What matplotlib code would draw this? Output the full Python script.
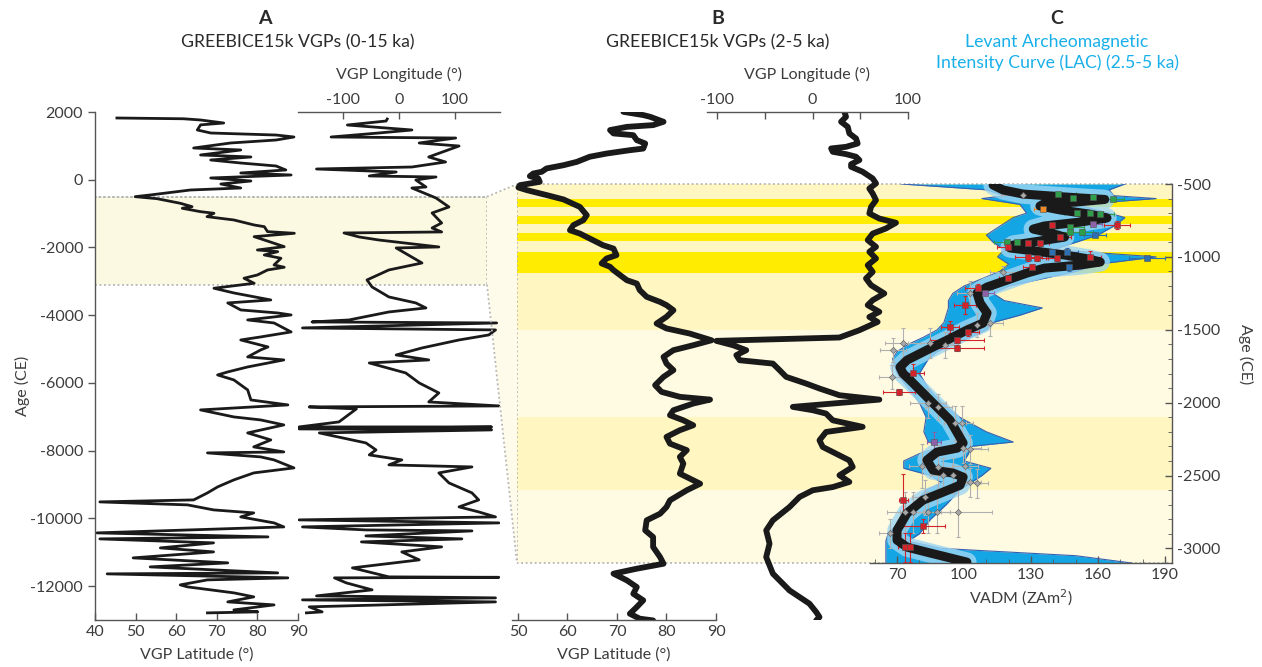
import matplotlib
matplotlib.use("Agg")
import matplotlib.pyplot as plt
from matplotlib.patches import Polygon

plt.rcParams['font.family'] = ['Lato', 'DejaVu Sans']
plt.rcParams['axes.unicode_minus'] = False

# ---------------- data ----------------
# Panel A: GREEBICE15k VGP latitude / longitude, 0-15 ka (age in years CE)
A_lat_age = [1823, 1800, 1764, 1675, 1620, 1469, 1380, 1320, 1262, 1173, 1085, 937, 878, 731, 672,
             583, 494, 406, 288, 199, 140, 52, -37, -126, -244, -303, -450,
             -500, -560, -695, -795, -843, -943, -990, -1090, -1188, -1336, -1386, -1533, -1581,
             -1681, -1779, -1976, -2074, -2124, -2221, -2319, -2516, -2584, -2664, -2812, -2909,
             -3057, -3204, -3343, -3550, -3638, -3845, -3934, -3993, -4140, -4229, -4494,
             -4642, -4731, -4937, -5026, -5232, -5321, -5528, -5675, -5764, -5911, -6206, -6502,
             -6649, -6797, -7004, -7092, -7240, -7476, -7683, -7889, -8037, -8066, -8184, -8273,
             -8509, -8657, -8863, -9070, -9247, -9454, -9513, -9601, -9749, -9838, -9956, -10133,
             -10251, -10428, -10546, -10605, -10723, -10871, -10989, -11166, -11313, -11432,
             -11609, -11638, -11756, -11815, -11963, -12022, -12199, -12317, -12465, -12554,
             -12702, -12760, -12790]
A_lat = [45.4, 61.8, 66, 71.7, 66, 65.2, 68.5, 84.6, 89, 84.6, 73.4, 64.3, 75.9, 66, 78.4,
         68.5, 75.9, 84.6, 87, 75.9, 88.3, 68.5, 78.4, 71, 75.9, 63.5, 53.6,
         49.9, 55.3, 61.0, 63.9, 61.5, 66.0, 69.3, 67.6, 74.2, 79.2, 81.7, 82.5, 89.1,
         79.2, 81.7, 86.6, 80.0, 85.0, 81.7, 85.8, 84.1, 86.6, 82.5, 80.0, 76.7,
         79.2, 69.3, 74.2, 83.3, 72.7, 75.9, 85, 88.3, 77.6, 84.1, 88.3,
         80.8, 75.9, 82.6, 80.8, 77.6, 86.5, 77.6, 72.7, 70.2, 74.2, 77.6, 78.4,
         87.5, 66, 74.2, 80.8, 86.5, 77.6, 83.3, 79.1, 86.5, 67.7, 80.8, 84.1,
         89, 79.1, 74.2, 70.2, 67.7, 64.3, 41.2, 62.8, 69.2, 79.1, 75.9, 84.1,
         86.5, 40.5, 82.6, 41.2, 69.2, 56.1, 69.2, 49.4, 72.7, 53.6,
         85, 43, 87.5, 67.7, 61, 62.8, 74.2, 79.1, 72.7, 84.1,
         74.2, 80.1, 67.7]

A_lon_age = [1793, 1734, 1616, 1469, 1380, 1262, 1232, 1085, 996, 672, 524, 376, 317, 229, 111,
             81, -7, -214, -244, -539, -804, -982, -1277, -1424, -1542, -1572, -1690, -1779,
             -1985, -2015, -2458, -2664, -2959, -3166, -3461, -3638, -3786, -3904, -4140, -4199,
             -4229, -4376, -4435, -4583, -4731, -4967, -5174, -5321, -5410, -5705, -6000, -6295,
             -6561, -6679, -6708, -6767, -7151, -7299, -7300, -7358, -7387, -7476, -7771, -7978,
             -8125, -8273, -8420, -8480, -8657, -8952, -9247, -9454, -9660, -9808, -9956, -10044,
             -10133, -10251, -10340, -10369, -10517, -10605, -10694, -10841, -10989, -11225,
             -11461, -11727, -11740, -11756, -11904, -12110, -12288, -12347, -12406, -12465,
             -12612, -12760, -12790]
A_lon = [-21, -23, -92, 23, -36, -121, 101, 36, 107, 53, 83, 23, -147, -5, -53,
         66, 30, 48, 23, 66, 89, 59, 76, 59, 76, -98, -71, -36,
         71, -5, 41, -18, -57, -48, -18, 30, 48, -18, -89, -155,
         174, -172, 172, 160, 107, 41, -5, 53, -53, 12, 36, 71,
         53, 178, -160, -76, -107, -178, 165, -178, 165, -142, -59, -41,
         -53, 5, -18, 130, 71, 89, 130, 142, 107, 142, 172, -178,
         178, -172, -59, 130, -59, 112, -67, 76, 5, 36,
         -83, -18, 178, -115, -94, -48, -147, 172, -172, 172,
         -160, -137, -165]

# Panel B: GREEBICE15k VGPs, 2-5 ka
B_lat_age = [-4, -26, -38, -72, -95, -107, -129, -152, -164, -198,
             -221, -256, -267, -290, -312, -347, -370, -392, -415, -427,
             -445, -461, -484, -507, -523, -541, -575, -605, -656, -713,
             -747, -781, -816, -839, -873, -919, -942, -987, -1010, -1044,
             -1067, -1090, -1159, -1182, -1227, -1273, -1308, -1330, -1365, -1410,
             -1456, -1490, -1525, -1571, -1605, -1639, -1685, -1731, -1776, -1822,
             -1879, -1925, -1959, -1978, -2005, -2051, -2085, -2120, -2154, -2188,
             -2234, -2280, -2325, -2371, -2417, -2486, -2555, -2600, -2669, -2715,
             -2761, -2806, -2875, -2921, -2989, -3058, -3104, -3138, -3172, -3218,
             -3264, -3310, -3355, -3401, -3447, -3481, -3493]
B_lat = [71.3, 75.3, 76.7, 79.4, 77.3, 72.0, 68.6, 69.3, 73.3, 74.0,
         75.7, 75.3, 72.6, 67.9, 64.5, 61.9, 59.2, 55.8, 54.8, 53.1,
         52.4, 54.1, 54.4, 50.4, 50.1, 51.8, 55.8, 59.2, 62.5, 63.9,
         63.2, 61.2, 60.5, 62.5, 64.5, 67.2, 69.3, 69.9, 67.9, 66.9,
         68.6, 69.3, 72.0, 74.0, 74.6, 76.0, 78.7, 80.0, 81.4, 80.0,
         78.0, 80.0, 84.7, 89.1, 85.4, 81.4, 79.4, 80.0, 81.4, 79.4,
         77.7, 79.0, 82.7, 88.8, 85.4, 81.4, 80.7, 83.4, 85.4, 82.7,
         80.0, 80.7, 84.1, 82.7, 83.4, 82.7, 86.8, 84.1, 80.7, 80.0,
         78.7, 76.0, 75.7, 77.3, 77.3, 78.7, 79.4, 74.0, 69.3, 72.0,
         74.0, 73.3, 75.3, 74.0, 72.6, 74.6, 77.3]

B_lon_age = [-4, -38, -72, -107, -152, -187, -221, -244, -255, -278,
             -294, -312, -335, -363, -381, -415, -461, -495, -530, -564,
             -610, -656, -701, -736, -765, -804, -839, -884, -930, -964,
             -1010, -1056, -1102, -1147, -1193, -1250, -1296, -1330, -1376, -1411,
             -1445, -1502, -1552, -1575, -1605, -1639, -1673, -1708, -1731, -1776,
             -1822, -1868, -1902, -1948, -1978, -2028, -2051, -2074, -2120, -2165,
             -2200, -2257, -2303, -2395, -2440, -2497, -2543, -2578, -2600, -2646,
             -2715, -2806, -2875, -2966, -3058, -3172, -3287, -3378, -3435, -3470,
             -3493]
B_lon = [33.4, 35.1, 29.9, 36.9, 38.6, 45.6, 47.3, 35.1, 19.5, 21.2,
         35.1, 45.6, 49.1, 40.4, 40.4, 52.5, 63.0, 66.5, 59.5, 63.0,
         66.5, 61.3, 59.5, 70.0, 87.4, 76.9, 63.0, 57.8, 66.5, 59.5,
         66.5, 57.8, 63.0, 56.0, 61.3, 75.2, 63.0, 57.8, 70.0, 59.5,
         68.2, 49.1, 28.2, -100.7, -83.3, -69.4, -79.8, -76.3, -41.5, -34.5,
         -27.6, -6.7, 7.3, 28.2, 70.0, -20.6, 0.3, 14.2, 21.2, 52.5,
         14.2, 7.3, 10.7, 38.6, 42.1, 28.2, 38.6, 21.2, 0.3, -13.6,
         -24.1, -41.5, -48.5, -45.0, -48.5, -41.5, -24.1, -3.2, 3.8, 7.3,
         3.8]

# Panel C: Levant Archeomagnetic Intensity Curve (VADM, ZAm^2)
C_age = [-507, -541, -569, -582, -596, -606, -624, -634, -651, -678,
         -706, -733, -761, -788, -809, -836, -864, -891, -919, -939,
         -960, -987, -1015, -1035, -1056, -1077, -1111, -1159, -1207, -1248,
         -1317, -1385, -1454, -1502, -1571, -1639, -1708, -1756, -1800, -1845,
         -1914, -2003, -2120, -2277, -2312, -2339, -2394, -2463, -2483, -2511,
         -2566, -2614, -2669, -2758, -2875, -2943, -2991, -3026, -3060, -3094]
C_vadm = [113, 117.5, 126.4, 138.5, 152, 163, 150, 136, 134, 143,
          156, 164, 152, 136, 131, 138.5, 145, 134, 122, 120.6,
          131.8, 145, 156, 161, 152, 136, 128.2, 119.3, 110.3, 105.8,
          107.2, 110.3, 108.5, 101.3, 92.4, 83.4, 74.5, 71.3, 72.7, 75.8,
          80.3, 86.1, 93.7, 99.6, 96.9, 87.9, 83.4, 86.1, 95.1, 99.6,
          98.2, 90.6, 81.6, 74.5, 70, 70, 74.5, 83.4, 92.4, 101.3]

C_env_age = [-500, -540, -580, -600, -640, -700, -730, -780, -850, -900, -950, -1000, -1050,
             -1100, -1150, -1200, -1250, -1300, -1350, -1400, -1450, -1500, -1550, -1600, -1650,
             -1700, -1800, -1900, -2000, -2100, -2200, -2270, -2300, -2350, -2400, -2450, -2500,
             -2550, -2600, -2700, -2800, -2900, -2950, -3000, -3050, -3100]
C_env_lo = [72, 110, 118, 108, 125, 128, 122, 117, 110, 113, 118, 115, 120,
            116, 108, 100, 95, 93, 93, 92, 91, 88, 82, 75, 70,
            68, 70, 75, 80, 83, 82, 84, 90, 80, 73, 73, 85,
            90, 83, 77, 72, 66, 65, 65, 65, 65]
C_env_hi = [172, 165, 167, 186, 150, 165, 172, 168, 160, 150, 140, 186, 160,
            150, 135, 120, 113, 118, 135, 125, 113, 110, 103, 95, 88,
            84, 80, 84, 90, 98, 110, 122, 103, 102, 100, 112, 108,
            103, 98, 92, 85, 80, 75, 90, 150, 175]

# archeomagnetic data: age, VADM, VADM error, age error
red_age = [-781, -781, -864, -905, -905, -932, -1001, -1001, -1008, -1070, -1008, -1145, -1214,
           -1330, -1481, -1516, -1571, -1626, -1797, -1928, -2669, -2847, -2991, -2991]
red_vadm = [168.5, 139.4, 143, 128.7, 134, 119.7, 128.7, 156.4, 132.7, 130.5, 141.6, 119.7, 106.3,
            100.4, 93.7, 101.8, 96.9, 96.9, 77.2, 70.9, 72.7, 81.6, 73.6, 75.8]
red_verr = [6, 5, 5, 4, 4, 5, 6, 5, 5, 4, 5, 4, 6, 5, 4, 5, 12, 12, 5, 7, 2, 10, 3, 3]
red_aerr = [30, 25, 20, 20, 20, 20, 25, 40, 20, 20, 20, 20, 25, 60, 40, 30, 20, 20, 60, 20,
            180, 50, 100, 100]

green_age = [-569, -596, -589, -603, -699, -699, -706, -795, -829, -829, -898, -898]
green_vadm = [142, 148.8, 157.8, 166.7, 150.6, 156.4, 161, 147.5, 147.5, 152.8, 123.7, 119.3]
green_verr = [8, 8, 6, 5, 6, 6, 6, 6, 5, 5, 6, 6]
green_aerr = [10, 10, 10, 10, 10, 10, 10, 15, 20, 20, 15, 15]

purple_age = [-775, -1248, -2271]
purple_vadm = [157.8, 109.4, 86.6]
purple_verr = [4, 4, 3]
purple_aerr = [15, 15, 70]

blue_age = [-1008, -850, -967, -967, -1070]
blue_vadm = [182, 158.7, 146.1, 139.4, 147]
blue_verr = [8, 5, 5, 5, 4]
blue_aerr = [15, 15, 25, 15, 25]

orange_age = [-672]
orange_vadm = [135.4]
orange_verr = [4]
orange_aerr = [10]

gray_age = [-575, -1104, -1248, -1454, -1468, -1591, -1605, -1591, -1639, -1825, -2003, -2030,
            -2140, -2140, -2312, -2319, -2435, -2442, -2435, -2497, -2497, -2545, -2552, -2648,
            -2751, -2751, -2751, -2751, -2751, -2895]
gray_vadm = [126.4, 117.5, 102.7, 111.6, 105.8, 84.8, 91.5, 72.7, 68.2, 67.8, 83.9, 88.4,
             96, 99.1, 99.6, 102.7, 81.2, 88.4, 100.4, 90.6, 95.1, 102.7, 105.8, 82.5,
             73.6, 77.2, 83.9, 87.9, 97.3, 66.9]
gray_verr = [10, 6, 6, 6, 5, 10, 6, 8, 6, 6, 8, 6, 5, 5, 8, 8, 6, 6, 6, 6, 6, 5, 5, 6,
             8, 6, 6, 6, 15, 5]
gray_aerr = [20, 40, 80, 90, 80, 100, 90, 100, 80, 80, 100, 90, 120, 120, 100, 100, 150, 150,
             100, 120, 120, 100, 100, 120, 140, 140, 140, 140, 170, 100]

# highlighted age windows (CE)
window = (-500, -3100)
medium_bands = [(-500, -1500), (-2100, -2600)]
bright_bands = [(-600, -660), (-720, -775), (-835, -890), (-965, -1110)]

# ---------------- layout ----------------
W, H = 1262, 667
fig = plt.figure(figsize=(W / 100, H / 100), dpi=100)


def px_axes(x0, y0, x1, y1, **kw):
    return fig.add_axes([x0 / W, 1 - y1 / H, (x1 - x0) / W, (y1 - y0) / H], **kw)


TXT = '#3c3c3c'
SP = '#555555'
FS = 11.5
LINE = '#1a1a1a'

PALE_A = '#fcf9e3'
PALE = '#fffbe2'
MED = '#fff6c1'
BRIGHT = '#ffec00'
DOT = dict(color='#b5b5b5', lw=1.3, ls=(0, (1, 1.5)))


def style(ax, show):
    for s in ['top', 'bottom', 'left', 'right']:
        ax.spines[s].set_visible(s in show)
        ax.spines[s].set_color(SP)
        ax.spines[s].set_linewidth(1.0)
    ax.patch.set_alpha(0)
    ax.tick_params(colors=SP, labelcolor=TXT, labelsize=FS, width=1.0)


# background shading layers
shadeA = px_axes(95, 112, 487, 620, zorder=0)
shadeA.set_xlim(0, 1)
shadeA.set_ylim(-13000, 2000)
shadeA.axis('off')
shadeA.axhspan(window[1], window[0], color=PALE_A, lw=0)
shadeA.plot([0, 1], [window[0], window[0]], **DOT)
shadeA.plot([0, 1, 1, 0], [window[1], window[1], window[0], window[0]], **DOT)

shadeB = px_axes(517, 112, 1172, 620, zorder=0)
shadeB.set_xlim(0, 1)
shadeB.set_ylim(-3490, -5)
shadeB.axis('off')
shadeB.axhspan(window[1], window[0], color=PALE, lw=0)
for lo, hi in medium_bands:
    shadeB.axhspan(hi, lo, color=MED, lw=0)
for lo, hi in bright_bands:
    shadeB.axhspan(hi, lo, color=BRIGHT, lw=0)
shadeB.plot([1, 0, 0, 1], [window[0], window[0], window[1], window[1]], **DOT)

# connector between the panel A window and the panel B/C window
inv = fig.transFigure.inverted()
pA_top = inv.transform(shadeA.transData.transform((1, window[0])))
pA_bot = inv.transform(shadeA.transData.transform((1, window[1])))
pB_top = inv.transform(shadeB.transData.transform((0, window[0])))
pB_bot = inv.transform(shadeB.transData.transform((0, window[1])))
fig.patches.append(Polygon([pA_top, pB_top, pB_bot, pA_bot], closed=True, transform=fig.transFigure,
                           facecolor='#fefbea', edgecolor='none', zorder=0))
for p, q in [(pA_top, pB_top), (pA_bot, pB_bot)]:
    fig.lines.append(plt.Line2D([p[0], q[0]], [p[1], q[1]], transform=fig.transFigure, **DOT))

# ---- Panel A: latitude ----
axA = px_axes(95, 112, 298, 620, zorder=2)
style(axA, ['left', 'bottom'])
axA.plot(A_lat, A_lat_age, color=LINE, lw=2.0, solid_joinstyle='round')
axA.set_xlim(40, 90)
axA.set_ylim(-13000, 2000)
axA.set_xticks(range(40, 91, 10))
axA.set_yticks(range(-12000, 2001, 2000))
axA.tick_params(axis='x', direction='in', length=5)
axA.tick_params(axis='y', direction='out', length=5)
axA.set_xlabel('VGP Latitude (°)', fontsize=FS, color=TXT, labelpad=6)
axA.set_ylabel('Age (CE)', fontsize=FS, color=TXT)
axA.yaxis.set_label_coords(-0.32, 0.46)

# ---- Panel A: longitude ----
axAl = px_axes(298, 112, 500, 620, zorder=2)
style(axAl, ['top'])
axAl.plot(A_lon, A_lon_age, color=LINE, lw=2.0, solid_joinstyle='round')
axAl.set_xlim(-180, 180)
axAl.set_ylim(-13000, 2000)
axAl.set_xticks([-100, 0, 100])
axAl.set_yticks([])
axAl.xaxis.tick_top()
axAl.xaxis.set_label_position('top')
axAl.tick_params(axis='x', direction='in', length=5)
axAl.set_xlabel('VGP Longitude (°)', fontsize=FS, color=TXT, labelpad=10)

# ---- Panel B: latitude ----
axB = px_axes(512, 112, 716, 620, zorder=3)
style(axB, ['bottom'])
axB.plot(B_lat, B_lat_age, color=LINE, lw=4.2, solid_capstyle='round', solid_joinstyle='round')
axB.set_xlim(48.8, 90)
axB.set_ylim(-3490, -5)
axB.set_xticks(range(50, 91, 10))
axB.set_yticks([])
axB.tick_params(axis='x', direction='in', length=5)
axB.set_xlabel('VGP Latitude (°)', fontsize=FS, color=TXT, labelpad=6)

# ---- Panel B: longitude ----
axBl = px_axes(707, 112, 908, 620, zorder=3)
style(axBl, ['top'])
axBl.plot(B_lon, B_lon_age, color=LINE, lw=4.2, solid_capstyle='round', solid_joinstyle='round')
axBl.set_xlim(-110.5, 100)
axBl.set_ylim(-3490, -5)
axBl.set_xticks([-100, -50, 0, 50, 100])
axBl.set_xticklabels(['-100', '', '0', '', '100'])
axBl.set_yticks([])
axBl.xaxis.tick_top()
axBl.xaxis.set_label_position('top')
axBl.tick_params(axis='x', direction='in', length=5)
axBl.set_xlabel('VGP Longitude (°)', fontsize=FS, color=TXT, labelpad=10)

# ---- Panel C: LAC intensity ----
axC = px_axes(870, 184, 1172, 563, zorder=4)
style(axC, ['bottom', 'right'])
axC.fill_betweenx(C_env_age, C_env_lo, C_env_hi, color='#14a5e4', lw=0)
axC.plot(C_env_lo, C_env_age, color='#3a5fb0', lw=0.8)
axC.plot(C_env_hi, C_env_age, color='#3a5fb0', lw=0.8)
axC.plot(C_vadm, C_age, color='#9ed6f2', lw=14, solid_capstyle='round', solid_joinstyle='round',
         alpha=0.8)


def pts(ages, vals, verr, aerr, color, marker, ms, ecolor):
    axC.errorbar(vals, ages, xerr=verr, yerr=aerr, fmt='none', ecolor=ecolor, elinewidth=0.8,
                 capsize=1.5, capthick=0.8, zorder=3)
    axC.plot(vals, ages, ls='none', marker=marker, ms=ms, mfc=color, mec='#555555', mew=0.4,
             zorder=4)


pts(gray_age, gray_vadm, gray_verr, gray_aerr, '#a8a8a8', 'D', 3.2, '#b0b0b0')
axC.plot(C_vadm, C_age, color=LINE, lw=6.5, solid_capstyle='round', solid_joinstyle='round',
         zorder=3.5)
pts(green_age, green_vadm, green_verr, green_aerr, '#2f9e4a', 's', 4.2, '#2f9e4a')
pts(red_age, red_vadm, red_verr, red_aerr, '#d2242a', 's', 4.5, '#d2242a')
pts(purple_age, purple_vadm, purple_verr, purple_aerr, '#8d62a9', 's', 4.2, '#8d62a9')
pts(blue_age, blue_vadm, blue_verr, blue_aerr, '#2c70b3', 's', 4.2, '#2c70b3')
pts(orange_age, orange_vadm, orange_verr, orange_aerr, '#f08a24', 's', 4.2, '#f08a24')

axC.set_xlim(57.9, 193.1)
axC.set_ylim(-3100, -500)
axC.set_xticks(range(70, 191, 30))
axC.set_xticks(range(60, 191, 10), minor=True)
axC.set_yticks(range(-3000, -499, 500))
axC.set_yticks(range(-3100, -499, 100), minor=True)
axC.yaxis.tick_right()
axC.yaxis.set_label_position('right')
axC.tick_params(axis='both', which='major', direction='in', length=5)
axC.tick_params(axis='both', which='minor', direction='in', length=3, color=SP)
axC.set_xlabel('VADM (ZAm$^2$)', fontsize=FS, color=TXT, labelpad=4)
axC.set_ylabel('Age (CE)', fontsize=FS, color=TXT, rotation=270)
axC.yaxis.set_label_coords(1.27, 0.55)


# ---- titles ----
def ftxt(x, y, s, **kw):
    fig.text(x / W, 1 - y / H, s, ha='center', va='center', **kw)


ftxt(265, 18, 'A', fontsize=14, fontweight='bold', color='#2a2a2a')
ftxt(298, 42, 'GREEBICE15k VGPs (0-15 ka)', fontsize=12.7, color='#2a2a2a')
ftxt(718, 18, 'B', fontsize=14, fontweight='bold', color='#2a2a2a')
ftxt(718, 42, 'GREEBICE15k VGPs (2-5 ka)', fontsize=12.7, color='#2a2a2a')
ftxt(1057, 18, 'C', fontsize=14, fontweight='bold', color='#2a2a2a')
ftxt(1057, 42, 'Levant Archeomagnetic', fontsize=12.7, color='#19b0ea')
ftxt(1057, 63, 'Intensity Curve (LAC) (2.5-5 ka)', fontsize=12.7, color='#19b0ea')

fig.savefig('out.png', dpi=100)
